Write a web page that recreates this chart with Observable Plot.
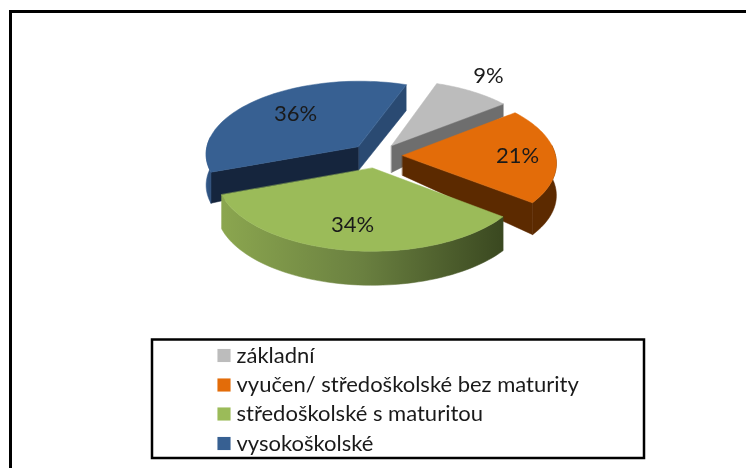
<!DOCTYPE html>
<html><head><meta charset="utf-8">
<style>html,body{margin:0;background:#fff}svg{display:block;filter:blur(0.4px)}</style>
<script src="https://cdn.jsdelivr.net/npm/d3@7"></script>
<script src="https://cdn.jsdelivr.net/npm/@observablehq/plot@0.6"></script>
</head><body><script>
const categories = ["základní","vyučen/ středoškolské bez maturity","středoškolské s maturitou","vysokoškolské"];
const shares = [9,21,34,36];
const topColors = ["#bcbcbc","#e36c09","#9bbb59","#376092"];

// perspective pie geometry
const startDeg = 19.5, explode = 0.17, persp = 0.092;
const cx = 376, cy = 155, rx = 153, ry = 73.2;
const wallColors = ["#6e6e6e","#5c2a00","#3f4d20","#15253d"];
const closingWall = "#2a4a72";
const depths = [[27,13],[20,32],[33,34],[24,31]]; // apex, rim
const total = d3.sum(shares);
const rad = d => d*Math.PI/180;
function proj(u,v){const s=1/(1-persp*v);return {x:cx+rx*u*s,y:cy+ry*v*s};}
let acc = startDeg;
const wedges = shares.map((v,i)=>{
  const a0=acc,a1=acc+v/total*360;acc=a1;
  const mid=rad((a0+a1)/2),ou=explode*Math.sin(mid),ov=-explode*Math.cos(mid);
  const pt=t=>proj(ou+Math.sin(rad(t)),ov-Math.cos(rad(t)));
  const apex=proj(ou,ov);
  const rim=d3.range(0,61).map(k=>pt(a0+(a1-a0)*k/60));
  return {i,a0,a1,apex,rim};
});
const down=(p,d)=>({x:p.x,y:p.y+d});
const poly=(pts,fill)=>Plot.line(pts,{x:"x",y:"y",fill,stroke:fill,strokeWidth:0.5,curve:"linear-closed"});
function wedgeMarks(w){
  const [dA,dR]=depths[w.i], m=[];
  const first=w.rim[0], last=w.rim[60];
  if(w.i===3){
    m.push(poly([w.apex,last,down(last,26),down(w.apex,dA)],closingWall));
    m.push(poly([w.apex,first,down(first,dR),down(w.apex,dA)],wallColors[3]));
  } else if(w.i===0||w.i===1){
    m.push(poly([w.apex,last,down(last,dR),down(w.apex,dA)],wallColors[w.i]));
  }
  // rim wall, front-facing part only
  const vis=d3.range(0,61).filter(k=>Math.cos(rad(w.a0+(w.a1-w.a0)*k/60))<0.15);
  if(vis.length>1){
    const up=vis.map(k=>w.rim[k]),lo=vis.map(k=>down(w.rim[k],dR)).reverse();
    m.push(poly(up.concat(lo),w.i===2?"url(#greenRim)":w.i===3?"url(#blueRim)":wallColors[w.i]));
  }
  m.push(poly([w.apex,...w.rim],topColors[w.i]));
  return m;
}
const order=[3,0,1,2];
const labelX=[488,517,352,295], labelY=[75,155,224,113];
const labels=shares.map((v,i)=>({t:v+"%",x:labelX[i],y:labelY[i]}));
const legendRows=[355,384.5,413.5,443];
const legend=categories.map((c,i)=>({c,y:legendRows[i],color:topColors[i]}));

const defs=()=>{
  const s=d3.create("svg:g");
  const d=s.append("defs");
  const g=d.append("linearGradient").attr("id","greenRim");
  [[0,"#8ba64f"],[0.5,"#6a8040"],[1,"#3a4820"]].forEach(([o,c])=>g.append("stop").attr("offset",o).attr("stop-color",c));
  const b=d.append("linearGradient").attr("id","blueRim");
  [[0,"#345a8a"],[1,"#2a4c78"]].forEach(([o,c])=>b.append("stop").attr("offset",o).attr("stop-color",c));
  return s.node();
};

const plot=Plot.plot({
  width:746,height:468,margin:0,
  x:{domain:[0,746],range:[0,746],axis:null},
  y:{domain:[0,468],range:[0,468],axis:null},
  style:{fontFamily:"Lato, sans-serif",background:"#fff",overflow:"hidden"},
  marks:[
    defs,
    Plot.rect([{x1:10.5,x2:760,y1:11.5,y2:480}],{x1:"x1",x2:"x2",y1:"y1",y2:"y2",fill:"none",stroke:"#000",strokeWidth:3}),
    ...order.flatMap(i=>wedgeMarks(wedges[i])),
    Plot.text(labels,{x:"x",y:"y",text:"t",fontSize:22,fill:"#1a1a1a"}),
    Plot.rect([{x1:152,x2:644,y1:339.5,y2:458}],{x1:"x1",x2:"x2",y1:"y1",y2:"y2",fill:"#fff",stroke:"#000",strokeWidth:2.5}),
    Plot.dot(legend,{x:()=>223.5,y:"y",symbol:"square",r:7.4,fill:"color"}),
    Plot.text(legend,{x:()=>236,y:"y",text:"c",textAnchor:"start",fontSize:22,fill:"#1a1a1a"})
  ]
});
document.body.appendChild(plot);
</script></body></html>
